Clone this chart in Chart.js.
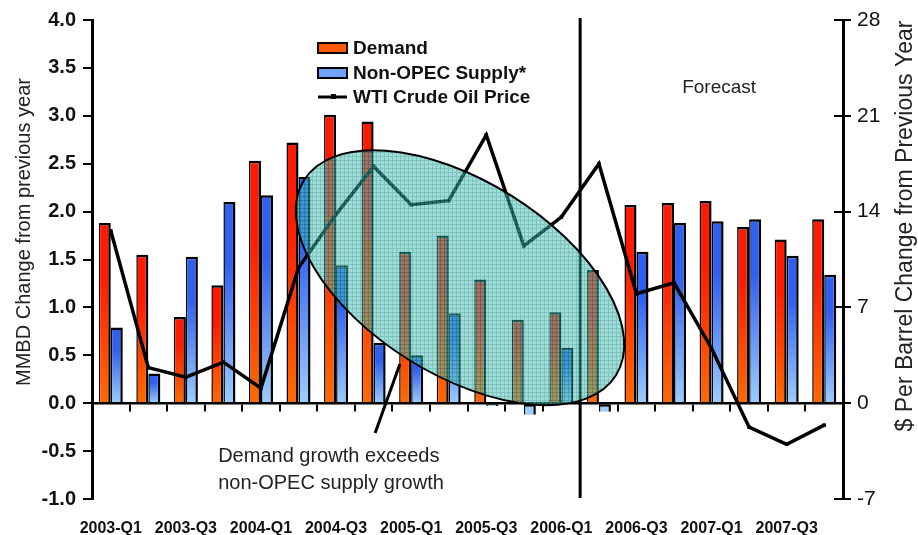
<!DOCTYPE html>
<html>
<head>
<meta charset="utf-8">
<script src="https://cdn.jsdelivr.net/npm/chart.js@4/dist/chart.umd.min.js"></script>
<style>
  html, body { margin: 0; padding: 0; background: #fff; }
  #wrap { width: 918px; height: 535px; }
</style>
</head>
<body>
<div id="wrap"><canvas id="c" width="918" height="535"></canvas></div>
<script>
// Quarterly year-on-year changes, 2003-2007 (forecast from 2006-Q2)
const quarters = [
  '2003-Q1','2003-Q2','2003-Q3','2003-Q4',
  '2004-Q1','2004-Q2','2004-Q3','2004-Q4',
  '2005-Q1','2005-Q2','2005-Q3','2005-Q4',
  '2006-Q1','2006-Q2','2006-Q3','2006-Q4',
  '2007-Q1','2007-Q2','2007-Q3','2007-Q4'
];
// million barrels per day, change from previous year
const demandGrowth = [1.88, 1.55, 0.90, 1.23, 2.53, 2.72, 3.01, 2.94, 1.58, 1.75,
                      1.29, 0.87, 0.95, 1.39, 2.07, 2.09, 2.11, 1.84, 1.71, 1.92];
const nonOpecSupplyGrowth = [0.79, 0.31, 1.53, 2.10, 2.17, 2.36, 1.44, 0.63, 0.50, 0.94,
                             -0.03, -0.12, 0.58, -0.09, 1.58, 1.88, 1.90, 1.92, 1.54, 1.34];
// $ per barrel, change from previous year
const wtiPriceChange = [12.6, 2.6, 1.9, 3.0, 1.1, 9.9, 13.8, 17.3, 14.5, 14.8,
                        19.6, 11.5, 13.6, 17.5, 8.0, 8.8, 4.0, -1.75, -3.0, -1.6];
const mmbdRange = [-1, 4];
const mmbdStep = 0.5;
const priceRange = [-7, 28];
const priceStep = 7;
const seriesNames = ['Demand', 'Non-OPEC Supply*', 'WTI Crude Oil Price'];
const forecastFrom = '2006-Q2';

// annotation placement, in category index / left-axis value units
const forecastNote = { text: 'Forecast', index: 16.2, value: 3.29 };
const gapNote = { lines: ['Demand growth exceeds', 'non-OPEC supply growth'], index: 2.86, values: [-0.56, -0.84] };
const gapPointer = { from: [7.04, -0.31], to: [7.70, 0.41] };
const gapEllipse = { index: 9.3, value: 1.31, halfLengthCats: 4.9, halfWidthUnits: 1.01, tiltDeg: 32 };

const FONT = "'Liberation Sans', Arial, Helvetica, sans-serif";
Chart.defaults.font.family = FONT;
Chart.defaults.color = '#000';

function barFill(topColor, bottomColor) {
  return (c) => {
    if (c.type !== 'data') return bottomColor;
    const ys = c.chart.scales.y;
    const v = c.raw;
    if (v < 0) return bottomColor;
    const p0 = ys.getPixelForValue(0);
    const p1 = ys.getPixelForValue(v);
    if (!isFinite(p0) || !isFinite(p1) || Math.abs(p0 - p1) < 1) return topColor;
    const g = c.chart.ctx.createLinearGradient(0, p1, 0, p0);
    g.addColorStop(0, topColor);
    g.addColorStop(0.3, topColor);
    g.addColorStop(1, bottomColor);
    return g;
  };
}
const demandTop = '#ff1a00', demandBottom = '#ff6a00';
const supplyTop = '#3060f0', supplyBottom = '#9ccdff';

function hatchTile() {
  const c = document.createElement('canvas');
  c.width = 4; c.height = 4;
  const g = c.getContext('2d');
  g.fillStyle = 'rgb(80,195,185)';
  g.fillRect(0, 0, 4, 4);
  g.fillStyle = 'rgb(25,145,135)';
  g.fillRect(0, 0, 4, 1);
  g.fillRect(0, 0, 1, 4);
  return c;
}

const overlays = {
  id: 'overlays',
  afterDatasetsDraw(chart) {
    const { ctx, chartArea, scales } = chart;
    const x = scales.x, y = scales.y;
    ctx.save();
    // forecast divider
    const fx = x.getPixelForValue(quarters.indexOf(forecastFrom) - 0.5);
    ctx.strokeStyle = '#000';
    ctx.lineWidth = 3;
    ctx.beginPath();
    ctx.moveTo(fx, chartArea.top - 2);
    ctx.lineTo(fx, chartArea.bottom - 1);
    ctx.stroke();

    // highlighted period
    const cx = x.getPixelForValue(gapEllipse.index);
    const cy = y.getPixelForValue(gapEllipse.value);
    const catW = x.getPixelForValue(1) - x.getPixelForValue(0);
    const unitH = y.getPixelForValue(0) - y.getPixelForValue(1);
    const a = gapEllipse.halfLengthCats * catW;
    const b = gapEllipse.halfWidthUnits * unitH;
    const rot = gapEllipse.tiltDeg * Math.PI / 180;
    ctx.beginPath();
    ctx.ellipse(cx, cy, a, b, rot, 0, Math.PI * 2);
    ctx.globalAlpha = 0.55;
    ctx.fillStyle = ctx.createPattern(hatchTile(), 'repeat');
    ctx.fill();
    ctx.globalAlpha = 1;
    ctx.lineWidth = 2;
    ctx.strokeStyle = '#000';
    ctx.stroke();

    // pointer to the note
    ctx.lineWidth = 3;
    ctx.beginPath();
    ctx.moveTo(x.getPixelForValue(gapPointer.from[0]), y.getPixelForValue(gapPointer.from[1]));
    ctx.lineTo(x.getPixelForValue(gapPointer.to[0]), y.getPixelForValue(gapPointer.to[1]));
    ctx.stroke();
    ctx.restore();
  },
  afterDraw(chart) {
    const { ctx, scales } = chart;
    const x = scales.x, y = scales.y, y1 = scales.y1;
    ctx.save();

    // inner tick marks on the price axis
    ctx.strokeStyle = '#000';
    ctx.lineWidth = 2;
    y1.ticks.forEach(t => {
      const py = Math.round(y1.getPixelForValue(t.value));
      ctx.beginPath();
      ctx.moveTo(y1.left - 9, py);
      ctx.lineTo(y1.left + 1, py);
      ctx.stroke();
    });

    // notes
    ctx.fillStyle = '#222';
    ctx.textBaseline = 'middle';
    ctx.font = '19px ' + FONT;
    ctx.textAlign = 'center';
    ctx.fillText(forecastNote.text, x.getPixelForValue(forecastNote.index), y.getPixelForValue(forecastNote.value));
    ctx.font = '20px ' + FONT;
    ctx.textAlign = 'left';
    gapNote.lines.forEach((line, i) => {
      ctx.fillText(line, x.getPixelForValue(gapNote.index), y.getPixelForValue(gapNote.values[i]));
    });

    // legend
    const lx = 318, rows = [48, 73, 97];
    ctx.font = 'bold 19px ' + FONT;
    const swatches = ['#ff5a00', '#70a4fa'];
    for (let i = 0; i < 2; i++) {
      ctx.fillStyle = swatches[i];
      ctx.fillRect(lx, rows[i] - 5, 29, 10);
      ctx.strokeStyle = '#000';
      ctx.lineWidth = 2;
      ctx.strokeRect(lx, rows[i] - 5, 29, 10);
    }
    ctx.strokeStyle = '#000';
    ctx.lineWidth = 3;
    ctx.beginPath();
    ctx.moveTo(lx, rows[2]);
    ctx.lineTo(lx + 29, rows[2]);
    ctx.stroke();
    ctx.fillStyle = '#000';
    ctx.fillRect(lx + 13, rows[2] - 3, 5, 5);
    ctx.fillStyle = '#111';
    seriesNames.forEach((name, i) => ctx.fillText(name, lx + 35, rows[i] + 1));

    // axis titles
    ctx.fillStyle = '#222';
    ctx.textAlign = 'center';
    ctx.font = '20px ' + FONT;
    ctx.save();
    ctx.translate(24, 232);
    ctx.rotate(-Math.PI / 2);
    ctx.fillText('MMBD Change from previous year', 0, 0);
    ctx.restore();
    ctx.font = '23px ' + FONT;
    ctx.save();
    ctx.translate(906, 226);
    ctx.rotate(-Math.PI / 2);
    ctx.fillText('$ Per Barrel Change from Previous Year', 0, 0);
    ctx.restore();

    ctx.restore();
  }
};

new Chart(document.getElementById('c'), {
  type: 'bar',
  data: {
    labels: quarters,
    datasets: [
      {
        type: 'line',
        label: seriesNames[2],
        data: wtiPriceChange,
        yAxisID: 'y1',
        order: 0,
        borderColor: '#000',
        borderWidth: 3.5,
        pointStyle: 'rect',
        pointRadius: 2.5,
        pointBackgroundColor: '#000',
        pointBorderColor: '#000',
        pointBorderWidth: 0,
        tension: 0
      },
      {
        label: seriesNames[0],
        data: demandGrowth,
        yAxisID: 'y',
        order: 1,
        backgroundColor: barFill(demandTop, demandBottom),
        borderColor: '#000',
        borderWidth: { top: 2.5, left: 1.5, right: 2.5, bottom: 0 },
        borderSkipped: false,
        categoryPercentage: 0.64,
        barPercentage: 1.0
      },
      {
        label: seriesNames[1],
        data: nonOpecSupplyGrowth,
        yAxisID: 'y',
        order: 1,
        backgroundColor: barFill(supplyTop, supplyBottom),
        borderColor: '#000',
        borderWidth: { top: 2.5, left: 1.5, right: 2.5, bottom: 0 },
        borderSkipped: false,
        categoryPercentage: 0.64,
        barPercentage: 1.0
      }
    ]
  },
  options: {
    responsive: false,
    animation: false,
    devicePixelRatio: 1,
    layout: { padding: { top: 20, left: 0, right: 0, bottom: 0 } },
    plugins: { legend: { display: false }, tooltip: { enabled: false } },
    scales: {
      x: {
        type: 'category',
        offset: true,
        border: { display: false },
        grid: { display: false, drawTicks: false, offset: true },
        ticks: {
          autoSkip: false,
          maxRotation: 0,
          padding: 20,
          font: { size: 16, weight: 'bold' },
          color: '#111',
          callback: (v, i) => (i % 2 === 0 ? quarters[i] : '')
        },
        afterFit: s => { s.height = 36; }
      },
      xZero: {
        type: 'category',
        position: { y: 0 },
        offset: true,
        z: 1,
        border: { display: true, color: '#000', width: 2.5 },
        grid: { display: true, drawOnChartArea: false, drawTicks: true, tickLength: 7, offset: true, color: '#000', lineWidth: 2 },
        ticks: { display: false }
      },
      y: {
        position: 'left',
        min: mmbdRange[0],
        max: mmbdRange[1],
        border: { display: true, color: '#000', width: 3 },
        grid: { display: true, drawOnChartArea: false, drawTicks: true, tickLength: 9, color: '#000', lineWidth: 2 },
        ticks: {
          stepSize: mmbdStep,
          padding: 7,
          font: { size: 20, weight: 'bold' },
          color: '#111',
          callback: v => v.toFixed(1)
        },
        afterFit: s => { s.width = 92; }
      },
      y1: {
        position: 'right',
        min: priceRange[0],
        max: priceRange[1],
        border: { display: true, color: '#000', width: 3 },
        grid: { display: true, drawOnChartArea: false, drawTicks: true, tickLength: 8, color: '#000', lineWidth: 2 },
        ticks: {
          stepSize: priceStep,
          padding: 6,
          font: { size: 21 },
          color: '#111'
        },
        afterFit: s => { s.width = 75; }
      }
    }
  },
  plugins: [overlays]
});
</script>
</body>
</html>
